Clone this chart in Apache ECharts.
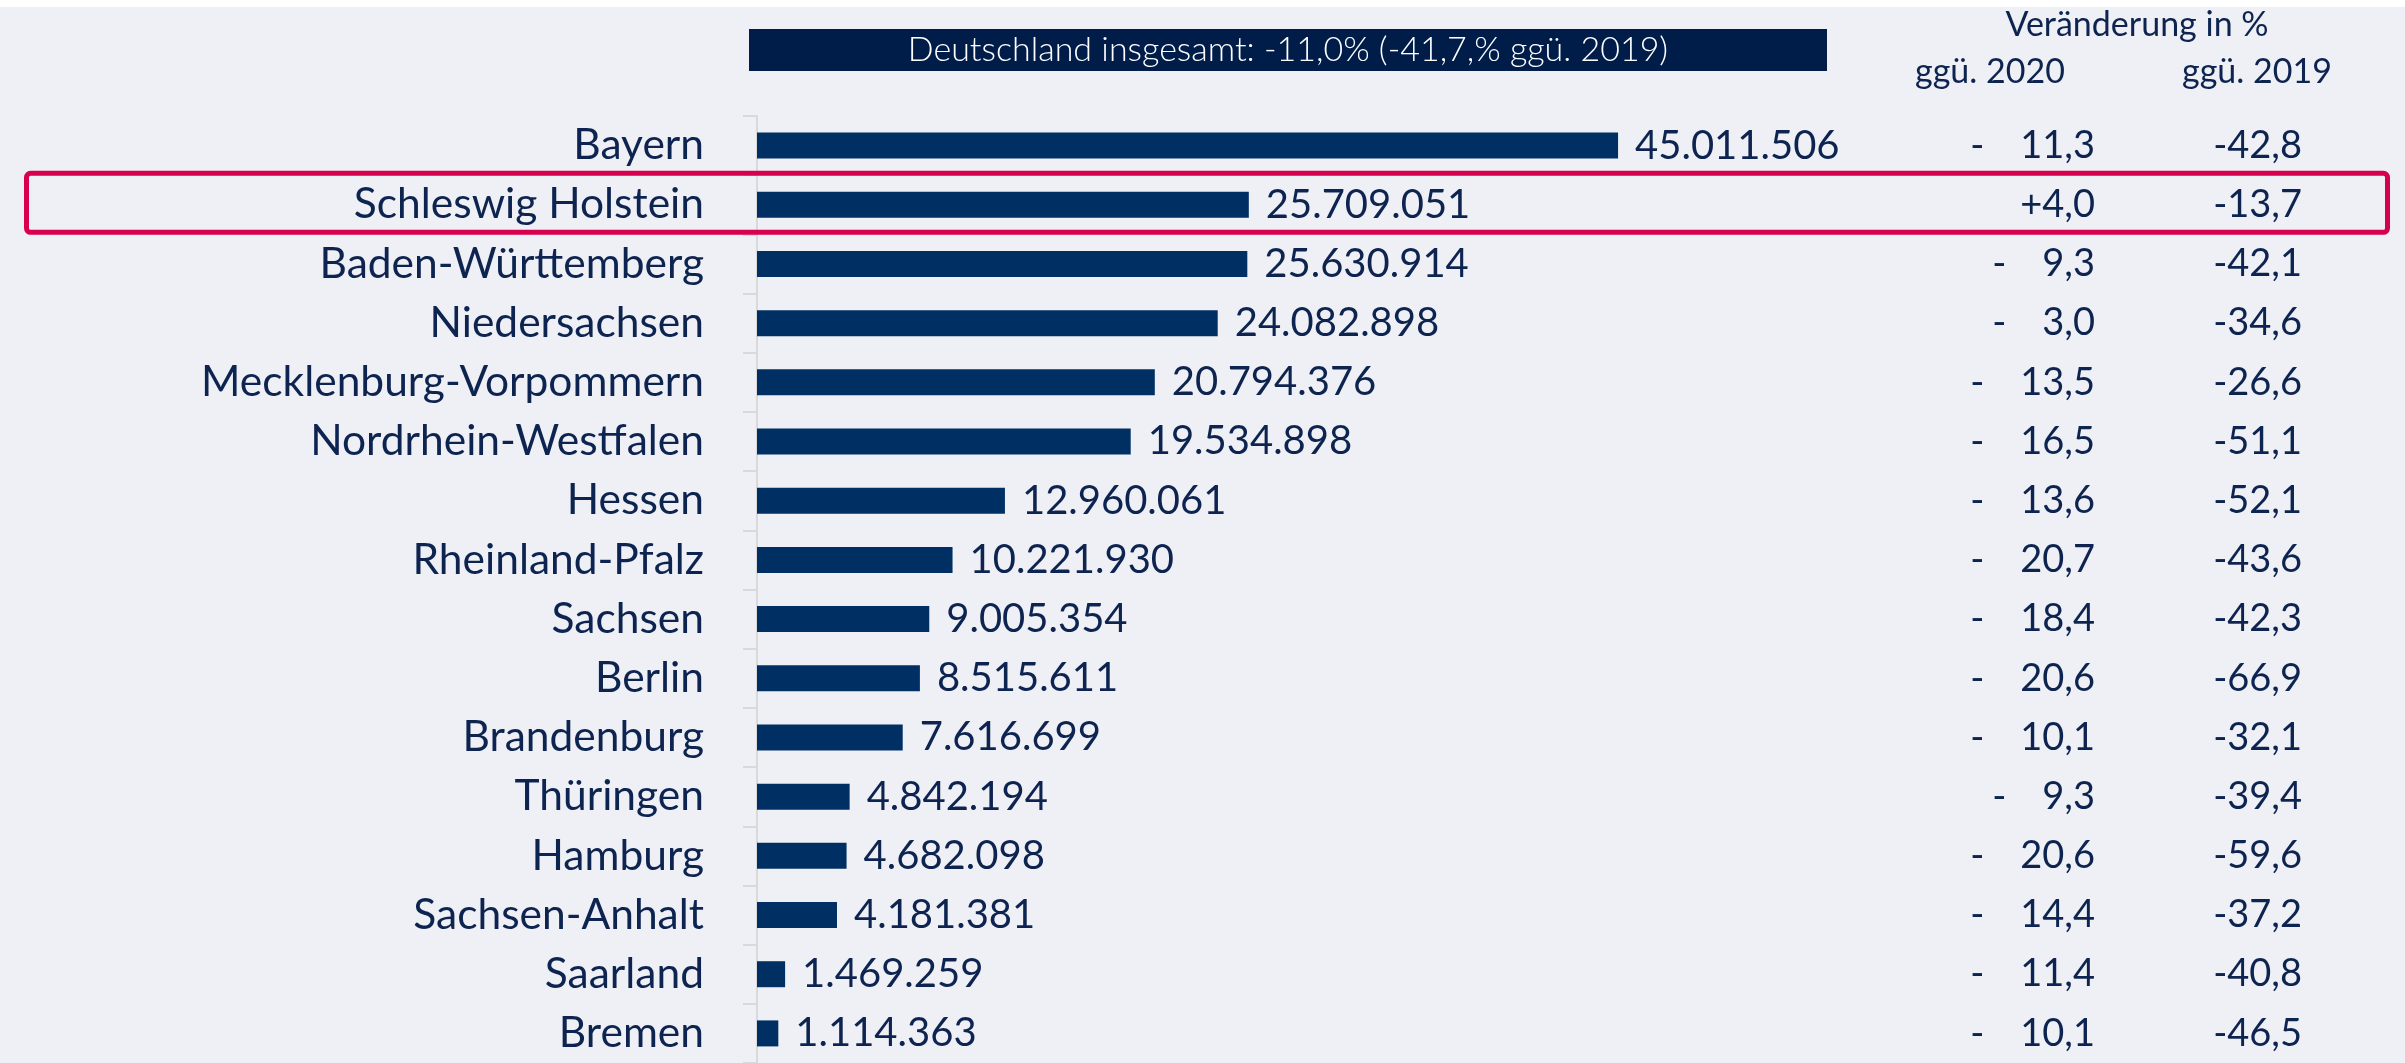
<!DOCTYPE html>
<html>
<head>
<meta charset="utf-8">
<script src="https://cdn.jsdelivr.net/npm/echarts@6/dist/echarts.min.js"></script>
<style>
html,body{margin:0;padding:0;background:#EFF0F5;}
#chart{width:2405px;height:1063px;}
</style>
</head>
<body>
<div id="chart"></div>
<script>
// ---- data ----
var states = ['Bayern','Schleswig Holstein','Baden-Württemberg','Niedersachsen','Mecklenburg-Vorpommern','Nordrhein-Westfalen','Hessen','Rheinland-Pfalz','Sachsen','Berlin','Brandenburg','Thüringen','Hamburg','Sachsen-Anhalt','Saarland','Bremen'];
var overnightStays = [45011506,25709051,25630914,24082898,20794376,19534898,12960061,10221930,9005354,8515611,7616699,4842194,4682098,4181381,1469259,1114363];
var changeVs2020 = [-11.3,4.0,-9.3,-3.0,-13.5,-16.5,-13.6,-20.7,-18.4,-20.6,-10.1,-9.3,-20.6,-14.4,-11.4,-10.1];
var changeVs2019 = [-42.8,-13.7,-42.1,-34.6,-26.6,-51.1,-52.1,-43.6,-42.3,-66.9,-32.1,-39.4,-59.6,-37.2,-40.8,-46.5];
var highlightState = 'Schleswig Holstein';
var titleText = 'Deutschland insgesamt: -11,0% (-41,7,% ggü. 2019)';
var headerChange = 'Veränderung in %';
var header2020 = 'ggü. 2020';
var header2019 = 'ggü. 2019';

var NAVY = '#0E2450';
var BAR = '#003063';
var RED = '#D6004F';
var FONT = 'Lato, "Noto Sans", sans-serif';

function fmtThousands(v){
  return String(v).replace(/\B(?=(\d{3})+(?!\d))/g, '.');
}
function fmtDec(v){
  return Math.abs(v).toFixed(1).replace('.', ',');
}
function fmt2020(v){
  if (v >= 0) return '+' + fmtDec(v);
  return '{d|-}{n|' + fmtDec(v) + '}';
}
function fmt2019(v){
  return (v < 0 ? '-' : '+') + fmtDec(v);
}

var chart = echarts.init(document.getElementById('chart'), null, {renderer:'canvas'});

var gridLeft = 757, gridTop = 116, gridWidth = 956.5, gridHeight = 949;
var gridRightX = gridLeft + gridWidth;

var option = {
  backgroundColor: '#EFF0F5',
  animation: false,
  grid: {left: gridLeft, top: gridTop, width: gridWidth, height: gridHeight},
  xAxis: {type:'value', min:0, max:50000000, show:false},
  yAxis: [
    {
      type:'category', inverse:true, data: states,
      axisLine:{show:true, lineStyle:{color:'#D9D9D9', width:2}},
      axisTick:{show:true, length:14, lineStyle:{color:'#D9D9D9', width:2}},
      axisLabel:{margin:53, fontSize:42.5, color:NAVY, fontFamily:FONT}
    },
    {
      type:'category', inverse:true, data: states, position:'right', offset:0,
      axisLine:{show:false}, axisTick:{show:false},
      axisLabel:{
        margin: 2095 - gridRightX, align:'right', fontSize:38, color:NAVY, fontFamily:FONT,
        formatter:function(val, idx){ return fmt2020(changeVs2020[idx]); },
        rich:{
          d:{fontSize:38, color:NAVY, fontFamily:FONT, padding:[0,36,0,0]},
          n:{fontSize:38, color:NAVY, fontFamily:FONT}
        }
      }
    },
    {
      type:'category', inverse:true, data: states, position:'right', offset:0,
      axisLine:{show:false}, axisTick:{show:false},
      axisLabel:{
        margin: 2302 - gridRightX, align:'right', fontSize:38, color:NAVY, fontFamily:FONT,
        formatter:function(val, idx){ return fmt2019(changeVs2019[idx]); }
      }
    }
  ],
  series: [{
    type:'bar', data: overnightStays, barWidth:26, xAxisIndex:0, yAxisIndex:0,
    itemStyle:{color:BAR},
    label:{show:true, position:'right', distance:17, fontSize:40, color:NAVY, fontFamily:FONT,
      formatter:function(p){ return fmtThousands(p.value); }}
  }],
  graphic: [
    {type:'rect', z:-10, shape:{x:0, y:0, width:2405, height:7}, style:{fill:'#FFFFFF'}},
    {type:'rect', shape:{x:749, y:29, width:1078, height:42}, style:{fill:'#001D4A'}},
    {type:'text', x:1288, y:50, style:{text:titleText, fill:'#FFFFFF', font:'300 34px ' + FONT, textAlign:'center', textVerticalAlign:'middle'}},
    {type:'text', x:2137, y:25, style:{text:headerChange, fill:NAVY, font:'34px ' + FONT, textAlign:'center', textVerticalAlign:'middle'}},
    {type:'text', x:1990, y:72, style:{text:header2020, fill:NAVY, font:'34px ' + FONT, textAlign:'center', textVerticalAlign:'middle'}},
    {type:'text', x:2257, y:72, style:{text:header2019, fill:NAVY, font:'34px ' + FONT, textAlign:'center', textVerticalAlign:'middle'}}
  ]
};
chart.setOption(option);

var hy = chart.convertToPixel({yAxisIndex:0}, highlightState);
option.graphic.push({type:'rect', z:100, shape:{x:26.5, y:hy - 31.5, width:2361, height:59, r:4},
  style:{fill:'none', stroke:RED, lineWidth:5}});
chart.setOption({graphic: option.graphic});
</script>
</body>
</html>
